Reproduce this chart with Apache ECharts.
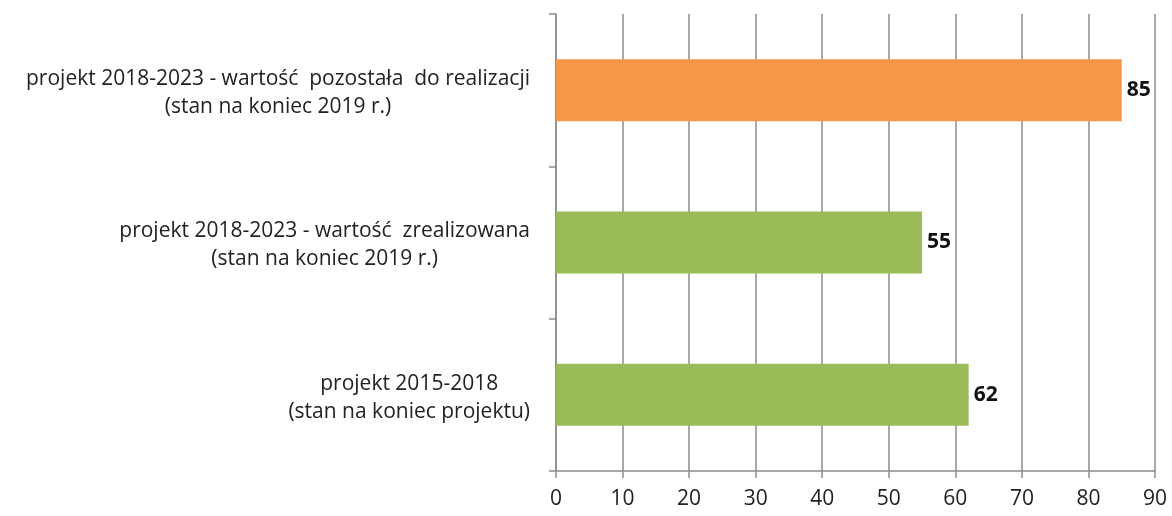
<!DOCTYPE html>
<html>
<head>
<meta charset="utf-8">
<script src="https://cdn.jsdelivr.net/npm/echarts@6/dist/echarts.min.js"></script>
<style>
  html, body { margin: 0; padding: 0; background: #fff; }
  #chart { width: 1172px; height: 516px; }
</style>
</head>
<body>
<div id="chart"></div>
<script>
// Categories listed bottom to top, as the category axis draws them
const categories = [
  'projekt 2015-2018\n(stan na koniec projektu)',
  'projekt 2018-2023 - wartość  zrealizowana\n(stan na koniec 2019 r.)',
  'projekt 2018-2023 - wartość  pozostała  do realizacji\n(stan na koniec 2019 r.)'
];
const values = [62, 55, 85];
const barColors = ['#9BBB59', '#9BBB59', '#F79646'];
const xTicks = [0, 10, 20, 30, 40, 50, 60, 70, 80, 90];

const font = '"Open Sans", "Noto Sans", sans-serif';
const gridColor = '#8c8c8c';

const chart = echarts.init(document.getElementById('chart'), null, { renderer: 'canvas' });
chart.setOption({
  animation: false,
  grid: { left: 556, right: 17, top: 14, bottom: 45, containLabel: false },
  xAxis: {
    type: 'value',
    min: xTicks[0],
    max: xTicks[xTicks.length - 1],
    interval: 10,
    axisLine: { show: true, lineStyle: { color: gridColor, width: 1.5 } },
    axisTick: { show: true, length: 7, lineStyle: { color: gridColor, width: 1.5 } },
    axisLabel: { color: '#222', fontSize: 21, fontFamily: font, margin: 18 },
    splitLine: { show: true, lineStyle: { color: gridColor, width: 1.5 } }
  },
  yAxis: {
    type: 'category',
    data: categories,
    axisLine: { show: true, lineStyle: { color: gridColor, width: 1.5 } },
    axisTick: { show: true, length: 7, lineStyle: { color: gridColor, width: 1.5 } },
    axisLabel: {
      margin: 26,
      align: 'right',
      padding: [6, 0, 0, 0],
      // each line centred within the label block
      formatter: v => v.split('\n').map(s => '{c|' + s + '}').join('\n'),
      rich: {
        c: { align: 'center', color: '#222', fontSize: 21, fontFamily: font, lineHeight: 28 }
      }
    }
  },
  series: [{
    type: 'bar',
    data: values.map((v, i) => ({ value: v, itemStyle: { color: barColors[i] } })),
    barWidth: 62,
    label: {
      show: true, position: 'right', distance: 5,
      color: '#111', fontWeight: 'bold', fontSize: 21, fontFamily: font
    }
  }]
});
</script>
</body>
</html>
